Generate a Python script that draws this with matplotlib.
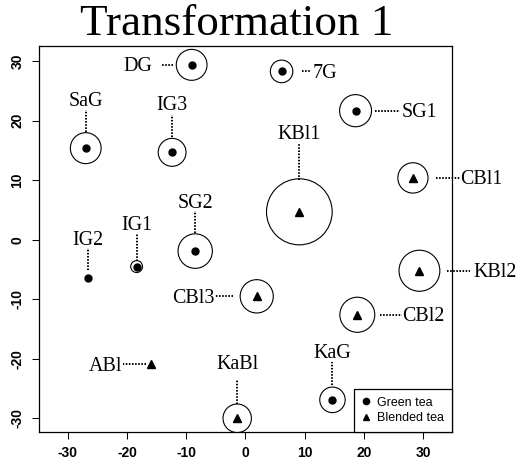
import matplotlib
matplotlib.use("Agg")
import matplotlib.pyplot as plt
from matplotlib.patches import Circle
from matplotlib.lines import Line2D

# ==============================
# DATA
# ==============================
green_names = ["DG", "7G", "SaG", "IG3", "SG1", "SG2", "IG1", "IG2", "KaG"]
green_x = [-9.1, 6.1, -27.0, -12.4, 18.6, -8.5, -18.4, -26.6, 14.7]
green_y = [29.4, 28.3, 15.4, 14.7, 21.7, -1.9, -4.5, -6.4, -26.9]
green_r = [2.6, 1.9, 2.6, 2.35, 2.7, 2.9, 1.0, 0.0, 2.15]

blend_names = ["KBl1", "CBl1", "KBl2", "CBl3", "CBl2", "ABl", "KaBl"]
blend_x = [9.1, 28.3, 29.4, 1.9, 18.9, -16.0, -1.4]
blend_y = [4.7, 10.4, -5.2, -9.5, -12.6, -20.9, -30.0]
blend_r = [5.55, 2.55, 3.45, 2.8, 2.95, 0.0, 2.4]

xticks = [-30, -20, -10, 0, 10, 20, 30]
yticks = [-30, -20, -10, 0, 10, 20, 30]

# ==============================
# LABEL LAYOUT
# side, dotted line start, line end, text offset (pixels from point)
# ==============================
LABEL_POS = {
    "DG": ("left", 18.5, 29.5, 39),
    "7G": ("right", 20, 29, 31.5),
    "SaG": ("top", 16.5, 38.5, 42.3),
    "IG3": ("top", 15.5, 37.5, 42.3),
    "SG1": ("right", 19.5, 44.5, 46),
    "SG2": ("top", 18, 40.3, 43.3),
    "IG1": ("top", 6, 32.3, 36.6),
    "IG2": ("top", 7.6, 30, 33.3),
    "KaG": ("top", 15, 37.7, 41.7),
    "KBl1": ("top", 32, 68.4, 72.4),
    "CBl1": ("right", 23, 47.3, 47.3),
    "KBl2": ("right", 27.4, 50.7, 53.7),
    "CBl3": ("left", 23.7, 41.7, 42),
    "CBl2": ("right", 22.7, 44.4, 44.7),
    "ABl": ("left", 5, 27.7, 29),
    "KaBl": ("top", 14, 38.3, 49.3),
}

SERIF = "Liberation Serif"
SANS = "Liberation Sans"

# ==============================
# FIGURE
# ==============================
fig = plt.figure(figsize=(5.2, 4.66), dpi=100)
ax = fig.add_axes([0.075, 0.073, 0.7942, 0.8283])
ax.set_xlim(-34.9, 34.9)
ax.set_ylim(-32.3, 32.57)

for sp in ax.spines.values():
    sp.set_linewidth(0.9)
    sp.set_color("black")

ax.set_xticks(xticks)
ax.set_yticks(yticks)
ax.set_xticklabels([str(t) for t in xticks], fontsize=10, fontweight="bold", family=SANS)
ax.set_yticklabels([str(t) for t in yticks], fontsize=10, fontweight="bold", family=SANS,
                   rotation=90, va="center")
ax.tick_params(length=5, width=0.75, top=False, right=False)
ax.tick_params(axis="x", pad=5)
ax.tick_params(axis="y", pad=5.5)

# title
fig.text(0.455, 1 - 35 / 466, "Transformation 1", ha="center", va="baseline",
         fontsize=32.5, family=SERIF)


def draw_group(xs, ys, rs, marker, ms):
    ax.plot(xs, ys, linestyle="none", marker=marker, color="black", markersize=ms)
    for x, y, r in zip(xs, ys, rs):
        if r > 0:
            ax.add_patch(Circle((x, y), r, fill=False, edgecolor="black", lw=0.8))


def label_point(name, x, y):
    side, near, far, off = LABEL_POS[name]
    px, py = ax.transData.transform((x, y))
    if side == "left":
        p0, p1 = (px - near, py), (px - far, py)
        t, ha = (px - off, py - 6.5), "right"
    elif side == "right":
        p0, p1 = (px + near, py), (px + far, py)
        t, ha = (px + off, py - 6.5), "left"
    else:
        p0, p1 = (px, py + near), (px, py + far)
        t, ha = (px, py + off), "center"
    inv = ax.transData.inverted()
    (x0, y0), (x1, y1) = inv.transform([p0, p1])
    ax.plot([x0, x1], [y0, y1], color="black", lw=1.4, ls=(0, (0.8, 0.8)), clip_on=False)
    tx, ty = inv.transform(t)
    ax.text(tx, ty, name, ha=ha, va="baseline", fontsize=14.4, family=SERIF)


draw_group(green_x, green_y, green_r, "o", 5)
draw_group(blend_x, blend_y, blend_r, "^", 5.5)

for n, x, y in zip(green_names, green_x, green_y):
    label_point(n, x, y)
for n, x, y in zip(blend_names, blend_x, blend_y):
    label_point(n, x, y)

# ==============================
# LEGEND
# ==============================
handles = [
    Line2D([], [], linestyle="none", marker="o", color="black", markersize=4.5),
    Line2D([], [], linestyle="none", marker="^", color="black", markersize=4.5),
]
leg = ax.legend(handles, ["Green tea", "Blended tea"], loc="lower right",
                borderaxespad=0, fancybox=False, framealpha=1, edgecolor="black",
                prop={"family": SANS, "size": 9}, handlelength=0.8,
                handletextpad=0.5, borderpad=0.6, labelspacing=0.3)
leg.get_frame().set_linewidth(0.9)

fig.savefig("out.png", dpi=100)
